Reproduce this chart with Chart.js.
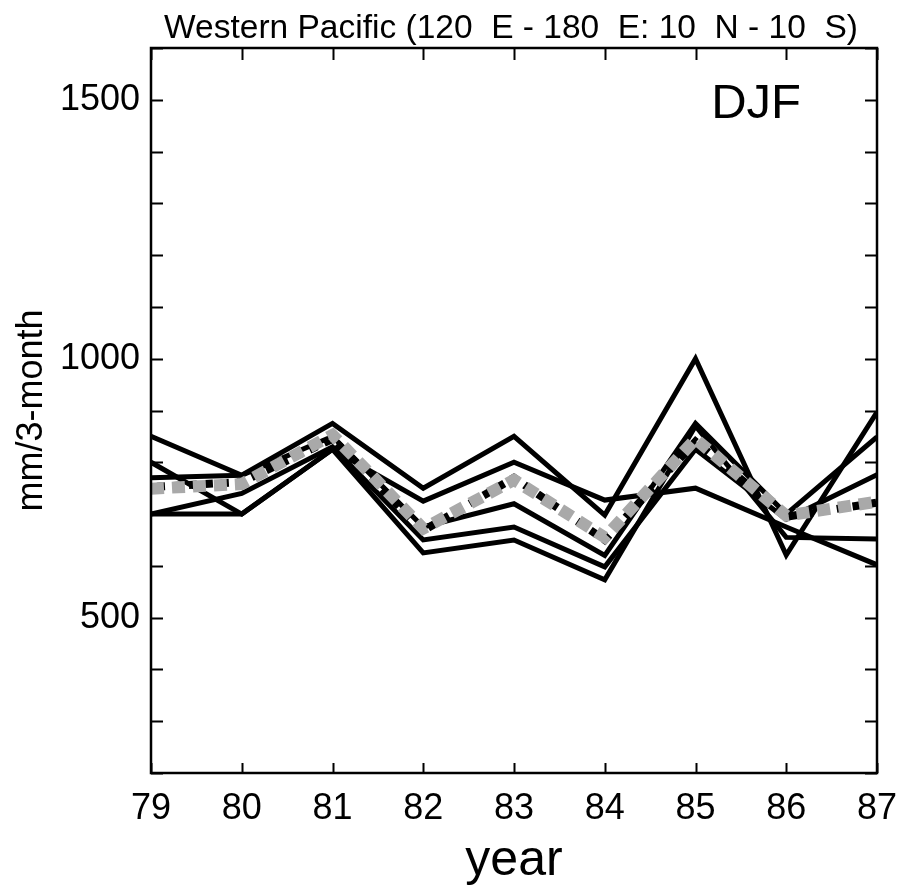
<!DOCTYPE html>
<html><head><meta charset="utf-8">
<script src="https://cdn.jsdelivr.net/npm/chart.js@4/dist/chart.umd.min.js"></script>
<style>html,body{margin:0;padding:0;background:#fff;overflow:hidden}#wrap{width:898px;height:892px}</style>
</head><body><div id="wrap"><canvas id="c" width="898" height="892"></canvas></div>
<script>
// ---- data ----
const years = [79, 80, 81, 82, 83, 84, 85, 86, 87];
const yMajorTicks = [500, 1000, 1500];
const run1 = [850, 775, 875, 750, 850, 698, 1000, 621, 897];
const run2 = [800, 700, 825, 725, 800, 727, 750, 675, 602];
const run3 = [770, 775, 850, 675, 720, 620, 875, 700, 849];
const run4 = [700, 740, 830, 650, 675, 598, 825, 690, 776];
const run5 = [700, 700, 825, 625, 650, 573, 870, 655, 652];
const blackDotted = [752, 762, 845, 668, 770, 650, 840, 695, 722];
const grayDotted = [749, 758, 853, 672, 766, 655, 845, 697, 724];
const titleText = 'Western Pacific (120  E - 180  E: 10  N - 10  S)';
const seasonText = 'DJF';

const FONT = "'Liberation Sans', Arial, sans-serif";
const pts = arr => arr.map((v, i) => ({x: years[i], y: v}));

const solid = arr => ({data: pts(arr), borderColor: '#000', borderWidth: 5, pointRadius: 0,
  tension: 0, fill: false, borderJoinStyle: 'miter', borderCapStyle: 'butt'});

const deco = {
  id: 'deco',
  afterDraw(chart) {
    const {ctx, chartArea: a, scales} = chart;
    ctx.save();
    ctx.strokeStyle = '#000';
    ctx.lineWidth = 2;
    ctx.beginPath();
    years.forEach(v => {
      const x = Math.round(scales.x.getPixelForValue(v)) + 0.5;
      ctx.moveTo(x, a.bottom); ctx.lineTo(x, a.bottom - 10);
      ctx.moveTo(x, a.top); ctx.lineTo(x, a.top + 12);
    });
    for (let v = 200; v <= 1600; v += 100) {
      const y = Math.round(scales.y.getPixelForValue(v)) + 0.5;
      ctx.moveTo(a.left, y); ctx.lineTo(a.left + 12, y);
      ctx.moveTo(a.right, y); ctx.lineTo(a.right - 12, y);
    }
    ctx.stroke();
    ctx.lineWidth = 2.5;
    ctx.strokeRect(a.left, a.top, a.right - a.left, a.bottom - a.top);
    ctx.fillStyle = '#000';
    ctx.textBaseline = 'alphabetic';
    ctx.textAlign = 'center';
    ctx.font = '33.5px ' + FONT;
    ctx.fillText(titleText, 511, 38);
    ctx.textAlign = 'right';
    ctx.font = '49px ' + FONT;
    ctx.fillText(seasonText, 801, 118);
    ctx.restore();
  }
};

new Chart(document.getElementById('c'), {
  type: 'line',
  data: {
    datasets: [
      {data: pts(grayDotted), borderColor: '#a9a9a9', borderWidth: 12, borderDash: [13, 8],
        pointRadius: 0, tension: 0, fill: false, borderCapStyle: 'butt'},
      {data: pts(blackDotted), borderColor: '#000', borderWidth: 8, borderDash: [8, 8], borderDashOffset: 10,
        pointRadius: 0, tension: 0, fill: false, borderCapStyle: 'butt'},
      solid(run1), solid(run2), solid(run3), solid(run4), solid(run5)
    ]
  },
  options: {
    responsive: false, animation: false, devicePixelRatio: 1,
    layout: {padding: {top: 48, right: 21, left: 0, bottom: 0}},
    plugins: {legend: {display: false}, tooltip: {enabled: false}, title: {display: false}},
    scales: {
      x: {
        type: 'linear', min: 79, max: 87,
        grid: {display: false}, border: {display: false},
        ticks: {stepSize: 1, color: '#000', padding: 6, font: {family: FONT, size: 36},
          callback: v => String(v), maxRotation: 0, autoSkip: false},
        title: {display: true, text: 'year', color: '#000', font: {family: FONT, size: 50},
          padding: {top: 0, bottom: 1}},
        afterFit: s => { s.height = 119; s.paddingLeft = 0; s.paddingRight = 0; }
      },
      y: {
        type: 'linear', min: 200, max: 1600,
        grid: {display: false}, border: {display: false},
        ticks: {stepSize: 100, color: '#000', padding: 3, font: {family: FONT, size: 36},
          autoSkip: false, callback: v => (yMajorTicks.includes(v) ? String(v) : '')},
        title: {display: true, text: 'mm/3-month', color: '#000', font: {family: FONT, size: 36},
          padding: {top: 10, bottom: 0}},
        afterFit: s => { s.width = 151; s.paddingTop = 0; s.paddingBottom = 0; }
      }
    }
  },
  plugins: [deco]
});
</script></body></html>
